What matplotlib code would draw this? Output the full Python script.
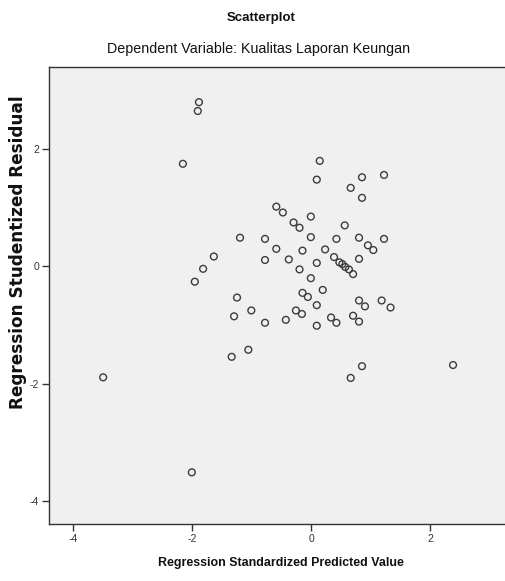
import matplotlib
matplotlib.use("Agg")
import matplotlib.pyplot as plt
from matplotlib import font_manager

plt.rcParams["axes.unicode_minus"] = False
names = {f.name for f in font_manager.fontManager.ttflist}
narrow = "Liberation Sans Narrow" if "Liberation Sans Narrow" in names else "Liberation Sans"

title = "Scatterplot"
subtitle = "Dependent Variable: Kualitas Laporan Keungan"
x_label = "Regression Standardized Predicted Value"
y_label = "Regression Studentized Residual"

predicted = [-1.89, -1.91, -2.16, 0.14, 0.09, 0.85, 1.22, 0.66, 0.85, -0.59,
             -0.48, -0.01, -0.30, -0.20, 0.56, -1.20, -0.78, -0.01, 0.42, 0.80,
             1.22, 0.95, 1.04, -0.59, -0.15, 0.23, -1.64, -0.78, -0.38, 0.09,
             0.38, 0.80, 0.47, 0.52, 0.57, 0.63, 0.70, -1.82, -0.20, -1.96,
             -0.01, -1.25, -0.15, -0.06, 0.19, 0.09, -1.30, -1.01, -0.78, -0.43,
             -0.26, -0.16, 0.09, 0.33, 0.42, 0.80, 0.90, 0.70, 0.80, 1.18,
             1.33, -1.34, -1.06, 0.85, 0.66, 2.38, -3.50, -2.01]
residual = [2.80, 2.65, 1.75, 1.80, 1.48, 1.52, 1.56, 1.34, 1.17, 1.02,
            0.92, 0.85, 0.75, 0.66, 0.70, 0.49, 0.47, 0.50, 0.47, 0.49,
            0.47, 0.36, 0.28, 0.30, 0.27, 0.29, 0.17, 0.11, 0.12, 0.06,
            0.16, 0.13, 0.07, 0.04, -0.01, -0.05, -0.13, -0.04, -0.05, -0.26,
            -0.20, -0.53, -0.45, -0.52, -0.40, -0.66, -0.85, -0.75, -0.96, -0.91,
            -0.75, -0.81, -1.01, -0.87, -0.96, -0.58, -0.68, -0.84, -0.94, -0.58,
            -0.70, -1.54, -1.42, -1.70, -1.90, -1.68, -1.89, -3.51]
x_ticks = [-4, -2, 0, 2]
y_ticks = [-4, -2, 0, 2]

W, H = 505, 581
fig = plt.figure(figsize=(W / 100, H / 100), dpi=100)
fig.patch.set_facecolor("white")
left, right, top, bottom = 49, 506, 67, 524
ax = fig.add_axes([left / W, 1 - bottom / H, (right - left) / W, (bottom - top) / H])
ax.set_facecolor("#f0f0f0")

ax.scatter(predicted, residual, s=24, facecolors="none", edgecolors="#3c3c3c",
           linewidths=1.0, zorder=3)

ax.set_xlim(-4.41, 3.27)
ax.set_ylim(-4.39, 3.40)
ax.set_xticks(x_ticks)
ax.set_yticks(y_ticks)
ax.tick_params(direction="out", length=5, width=1, color="#333333",
               labelsize=7.5, labelcolor="#333333", pad=2)
for lab in ax.get_xticklabels() + ax.get_yticklabels():
    lab.set_family(narrow)
for sp in ax.spines.values():
    sp.set_color("#333333")
    sp.set_linewidth(1.0)

fig.text(261 / W, 1 - 18 / H, title, ha="center", va="center",
         fontsize=9.5, fontweight="bold", family=narrow, color="#111111")
fig.text(259 / W, 1 - 49 / H, subtitle, ha="center", va="center",
         fontsize=10.3, family=narrow, color="#111111")
fig.text(281 / W, 1 - 563 / H, x_label, ha="center", va="center",
         fontsize=8.9, fontweight="bold", family=narrow, color="#111111")
fig.text(18 / W, 1 - 252 / H, y_label, ha="center", va="center", rotation=90,
         fontsize=12.2, fontweight="bold", family="DejaVu Sans", color="#111111")

fig.savefig("out.png", dpi=100)
